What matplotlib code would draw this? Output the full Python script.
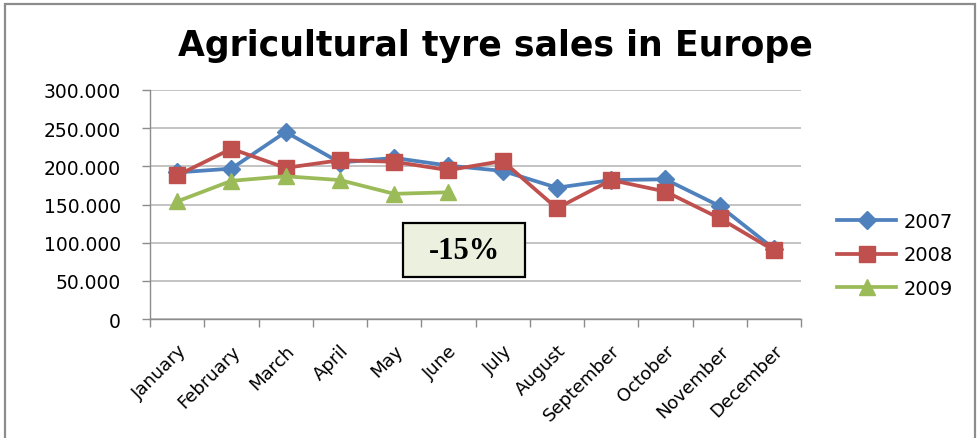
import matplotlib
matplotlib.use("Agg")
import matplotlib.pyplot as plt
from matplotlib.patches import Rectangle
from matplotlib.ticker import FixedLocator, FuncFormatter

months = ["January", "February", "March", "April", "May", "June", "July",
          "August", "September", "October", "November", "December"]
sales_2007 = [192000, 197000, 245000, 205000, 211000, 201000, 194000,
              172000, 182000, 183000, 148000, 92000]
sales_2008 = [188000, 223000, 198000, 208000, 206000, 195000, 207000,
              145000, 182000, 167000, 132000, 90000]
sales_2009 = [154000, 181000, 187000, 182000, 164000, 166000]
series_labels = ["2007", "2008", "2009"]
yticks = [0, 50000, 100000, 150000, 200000, 250000, 300000]
title = "Agricultural tyre sales in Europe"
note = "-15%"

W, H = 979, 439
fig = plt.figure(figsize=(W / 100, H / 100), dpi=100)

# outer frame
fig.patches.append(Rectangle((5 / W, -0.05), (970) / W, 1 - 5 / H + 0.05,
                             transform=fig.transFigure, fill=False,
                             edgecolor="#8c8c8c", linewidth=1.6))

ax = fig.add_axes([150 / W, 1 - 320 / H, (801 - 150) / W, (320 - 91) / H])

colors = ["#4F81BD", "#C0504D", "#9BBB59"]
markers = ["D", "s", "^"]
msizes = [9, 11, 12]
x = list(range(len(months)))
for vals, c, m, ms, lab in zip([sales_2007, sales_2008, sales_2009], colors,
                               markers, msizes, series_labels):
    ax.plot(x[:len(vals)], vals, color=c, marker=m, markersize=ms, lw=2.7,
            label=lab, markeredgecolor=c, clip_on=False)

ax.set_xlim(-0.5, len(months) - 0.5)
ax.set_ylim(0, 300000)
ax.set_yticks(yticks)
ax.yaxis.set_major_formatter(FuncFormatter(lambda v, p: "0" if v == 0 else f"{v/1000:.3f}"))
ax.grid(axis="y", color="#b3b3b3", linewidth=1.1)
ax.set_axisbelow(True)

ax.xaxis.set_major_locator(FixedLocator([i - 0.5 for i in range(len(months) + 1)]))
ax.xaxis.set_minor_locator(FixedLocator(x))
ax.set_xticklabels([])
ax.set_xticklabels(months, minor=True, rotation=45, ha="right", va="top",
                   rotation_mode="anchor")
ax.tick_params(axis="x", which="major", length=6, color="#8c8c8c", width=1)
ax.tick_params(axis="x", which="minor", length=0, pad=16, labelsize=13)
ax.tick_params(axis="y", length=6, color="#8c8c8c", width=1, pad=15, labelsize=13.5)

for s in ["top", "right"]:
    ax.spines[s].set_visible(False)
for s in ["left", "bottom"]:
    ax.spines[s].set_color("#8c8c8c")
    ax.spines[s].set_linewidth(1)

# note box
ax.add_patch(Rectangle((0.389, 0.183), 0.187, 0.236, transform=ax.transAxes,
                       facecolor="#EBF1DE", edgecolor="black", linewidth=1.6,
                       zorder=5))
ax.text(0.4825, 0.30, note, transform=ax.transAxes, ha="center", va="center",
        fontsize=22, fontweight="bold", family="Liberation Serif", zorder=6)

fig.text(495 / W, 1 - 46 / H, title, ha="center", va="center",
         fontsize=25, fontweight="bold", family="DejaVu Sans")

fig.legend(loc="center left", bbox_to_anchor=(820 / W, 1 - 256 / H),
           frameon=False, fontsize=14, handlelength=3.0, labelspacing=0.75,
           handletextpad=0.4)

fig.savefig("out.png", dpi=100)
